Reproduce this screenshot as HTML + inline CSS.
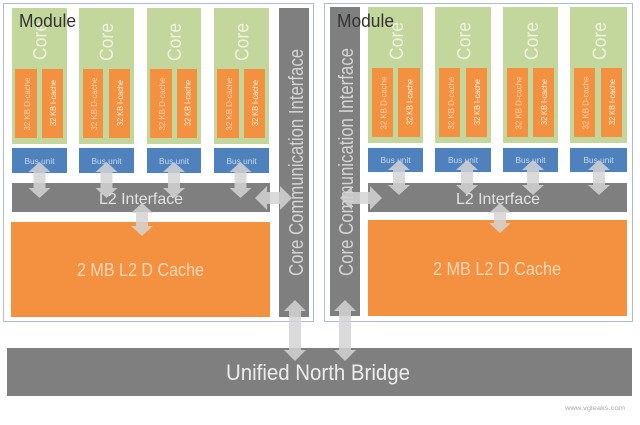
<!DOCTYPE html>
<html><head><meta charset="utf-8"><style>
html,body{margin:0;padding:0;background:#fff;}
svg{display:block;}
text{font-family:"Liberation Sans",sans-serif;}
</style></head><body>
<svg width="640" height="425" viewBox="0 0 640 425" xmlns="http://www.w3.org/2000/svg">
<rect x="0" y="0" width="640" height="425" fill="#fff"/>
<!-- module boxes -->
<rect x="3.5" y="3.5" width="310" height="318" fill="#fff" stroke="#aebccb" stroke-width="1"/>
<rect x="324.5" y="3.5" width="308" height="318" fill="#fff" stroke="#aebccb" stroke-width="1"/>

<!-- LEFT MODULE -->
<g>
<rect x="12" y="8" width="55" height="136" fill="#c3d69b"/>
<rect x="79" y="8" width="55" height="136" fill="#c3d69b"/>
<rect x="147" y="8" width="54" height="136" fill="#c3d69b"/>
<rect x="214" y="8" width="55" height="136" fill="#c3d69b"/>
<rect x="15" y="69" width="22" height="69" fill="#f39140"/>
<rect x="42" y="69" width="21" height="69" fill="#f39140"/>
<rect x="83" y="69" width="20" height="69" fill="#f39140"/>
<rect x="109" y="69" width="21" height="69" fill="#f39140"/>
<rect x="150" y="69" width="22" height="69" fill="#f39140"/>
<rect x="177" y="69" width="20" height="69" fill="#f39140"/>
<rect x="217" y="69" width="22" height="69" fill="#f39140"/>
<rect x="244" y="69" width="21" height="69" fill="#f39140"/>
<rect x="12" y="148" width="55" height="25" fill="#4f81bd"/>
<rect x="79" y="148" width="55" height="25" fill="#4f81bd"/>
<rect x="147" y="148" width="54" height="25" fill="#4f81bd"/>
<rect x="214" y="148" width="55" height="25" fill="#4f81bd"/>
<rect x="12" y="183" width="258" height="29" fill="#7f7f7f"/>
<rect x="11" y="222" width="259" height="95" fill="#f39140"/>
<rect x="279" y="8" width="30" height="309" fill="#7f7f7f"/>
</g>

<!-- RIGHT MODULE -->
<g>
<rect x="368" y="7" width="55" height="136" fill="#c3d69b"/>
<rect x="435" y="7" width="56" height="136" fill="#c3d69b"/>
<rect x="503" y="7" width="55" height="136" fill="#c3d69b"/>
<rect x="570" y="7" width="57" height="136" fill="#c3d69b"/>
<rect x="372" y="68" width="21" height="69" fill="#f39140"/>
<rect x="398" y="68" width="22" height="69" fill="#f39140"/>
<rect x="439" y="68" width="21" height="69" fill="#f39140"/>
<rect x="466" y="68" width="21" height="69" fill="#f39140"/>
<rect x="507" y="68" width="21" height="69" fill="#f39140"/>
<rect x="533" y="68" width="21" height="69" fill="#f39140"/>
<rect x="574" y="68" width="21" height="69" fill="#f39140"/>
<rect x="601" y="68" width="21" height="69" fill="#f39140"/>
<rect x="368" y="148" width="55" height="24" fill="#4f81bd"/>
<rect x="435" y="148" width="56" height="24" fill="#4f81bd"/>
<rect x="503" y="148" width="55" height="24" fill="#4f81bd"/>
<rect x="570" y="148" width="57" height="24" fill="#4f81bd"/>
<rect x="368" y="183" width="259" height="29" fill="#7f7f7f"/>
<rect x="368" y="220" width="259" height="96" fill="#f39140"/>
<rect x="330" y="7" width="30" height="309" fill="#7f7f7f"/>
</g>

<!-- Unified North Bridge -->
<rect x="7" y="348" width="625" height="48" fill="#7f7f7f"/>

<!-- Core labels -->
<g fill="#edf2e0" font-size="19" text-anchor="middle">
<text transform="translate(46.5,41) rotate(-90)" textLength="38" lengthAdjust="spacingAndGlyphs">Core</text>
<text transform="translate(113,42) rotate(-90)" textLength="38" lengthAdjust="spacingAndGlyphs">Core</text>
<text transform="translate(181,42) rotate(-90)" textLength="38" lengthAdjust="spacingAndGlyphs">Core</text>
<text transform="translate(248.5,42) rotate(-90)" textLength="38" lengthAdjust="spacingAndGlyphs">Core</text>
<text transform="translate(403,41) rotate(-90)" textLength="38" lengthAdjust="spacingAndGlyphs">Core</text>
<text transform="translate(470.5,41) rotate(-90)" textLength="38" lengthAdjust="spacingAndGlyphs">Core</text>
<text transform="translate(538,41) rotate(-90)" textLength="38" lengthAdjust="spacingAndGlyphs">Core</text>
<text transform="translate(606,41) rotate(-90)" textLength="38" lengthAdjust="spacingAndGlyphs">Core</text>
</g>

<!-- cache labels -->
<g font-size="8.5" text-anchor="middle">
<g fill="#fbd2b0">
<text transform="translate(30,104) rotate(-90)" textLength="53" lengthAdjust="spacingAndGlyphs">32 KB D-cache</text>
<text transform="translate(97,104) rotate(-90)" textLength="53" lengthAdjust="spacingAndGlyphs">32 KB D-cache</text>
<text transform="translate(165,104) rotate(-90)" textLength="53" lengthAdjust="spacingAndGlyphs">32 KB D-cache</text>
<text transform="translate(232,104) rotate(-90)" textLength="53" lengthAdjust="spacingAndGlyphs">32 KB D-cache</text>
<text transform="translate(386.5,103) rotate(-90)" textLength="53" lengthAdjust="spacingAndGlyphs">32 KB D-cache</text>
<text transform="translate(454,103) rotate(-90)" textLength="53" lengthAdjust="spacingAndGlyphs">32 KB D-cache</text>
<text transform="translate(521.5,103) rotate(-90)" textLength="53" lengthAdjust="spacingAndGlyphs">32 KB D-cache</text>
<text transform="translate(588.5,103) rotate(-90)" textLength="53" lengthAdjust="spacingAndGlyphs">32 KB D-cache</text>
</g>
<g fill="#fff3e6">
<text transform="translate(56,103) rotate(-90)" textLength="46" lengthAdjust="spacingAndGlyphs">32 KB I-cache</text>
<text transform="translate(123,103) rotate(-90)" textLength="46" lengthAdjust="spacingAndGlyphs">32 KB I-cache</text>
<text transform="translate(190.5,103) rotate(-90)" textLength="46" lengthAdjust="spacingAndGlyphs">32 KB I-cache</text>
<text transform="translate(258,103) rotate(-90)" textLength="46" lengthAdjust="spacingAndGlyphs">32 KB I-cache</text>
<text transform="translate(412.5,102) rotate(-90)" textLength="46" lengthAdjust="spacingAndGlyphs">32 KB I-cache</text>
<text transform="translate(480,102) rotate(-90)" textLength="46" lengthAdjust="spacingAndGlyphs">32 KB I-cache</text>
<text transform="translate(547,102) rotate(-90)" textLength="46" lengthAdjust="spacingAndGlyphs">32 KB I-cache</text>
<text transform="translate(615,102) rotate(-90)" textLength="46" lengthAdjust="spacingAndGlyphs">32 KB I-cache</text>
</g>
</g>

<!-- Bus unit labels -->
<g fill="#c9d8ef" font-size="8.5" text-anchor="middle">
<text x="39.5" y="164" textLength="30" lengthAdjust="spacingAndGlyphs">Bus unit</text>
<text x="106.5" y="164" textLength="30" lengthAdjust="spacingAndGlyphs">Bus unit</text>
<text x="174" y="164" textLength="30" lengthAdjust="spacingAndGlyphs">Bus unit</text>
<text x="241.5" y="164" textLength="30" lengthAdjust="spacingAndGlyphs">Bus unit</text>
<text x="395.5" y="163" textLength="30" lengthAdjust="spacingAndGlyphs">Bus unit</text>
<text x="463" y="163" textLength="30" lengthAdjust="spacingAndGlyphs">Bus unit</text>
<text x="530.5" y="163" textLength="30" lengthAdjust="spacingAndGlyphs">Bus unit</text>
<text x="598.5" y="163" textLength="30" lengthAdjust="spacingAndGlyphs">Bus unit</text>
</g>

<!-- L2 Interface / cache labels -->
<g fill="#e2e2e2" font-size="16" text-anchor="middle">
<text x="141" y="204" textLength="84" lengthAdjust="spacingAndGlyphs">L2 Interface</text>
<text x="498" y="204" textLength="84" lengthAdjust="spacingAndGlyphs">L2 Interface</text>
</g>
<g fill="#fcd8ba" font-size="18" text-anchor="middle">
<text x="140.5" y="276" textLength="127" lengthAdjust="spacingAndGlyphs">2 MB L2 D Cache</text>
<text x="497" y="275" textLength="128" lengthAdjust="spacingAndGlyphs">2 MB L2 D Cache</text>
</g>

<!-- CCI labels -->
<g fill="#d4d4d4" font-size="20" text-anchor="middle">
<text transform="translate(303,162.5) rotate(-90)" textLength="227" lengthAdjust="spacingAndGlyphs">Core Communication Interface</text>
<text transform="translate(353,162) rotate(-90)" textLength="228" lengthAdjust="spacingAndGlyphs">Core Communication Interface</text>
</g>

<!-- Module labels -->
<g fill="#333" font-size="18">
<text x="19" y="27" textLength="57" lengthAdjust="spacingAndGlyphs">Module</text>
<text x="337" y="27" textLength="57" lengthAdjust="spacingAndGlyphs">Module</text>
</g>

<!-- UNB label -->
<text x="318" y="380" fill="#ececec" font-size="22" text-anchor="middle" textLength="184" lengthAdjust="spacingAndGlyphs">Unified North Bridge</text>

<!-- arrows -->
<g fill="#d3d3d3" fill-opacity="0.85">
<!-- vertical: bus -> L2I -->
<path d="M39.5,162 l11,10 h-5 v16 h5 l-11,10 l-11,-10 h5 v-16 h-5 z"/>
<path d="M106.5,162 l11,10 h-5 v16 h5 l-11,10 l-11,-10 h5 v-16 h-5 z"/>
<path d="M174,162 l11,10 h-5 v16 h5 l-11,10 l-11,-10 h5 v-16 h-5 z"/>
<path d="M240.5,162 l11,10 h-5 v16 h5 l-11,10 l-11,-10 h5 v-16 h-5 z"/>
<path d="M399,160 l11,10 h-5 v15 h5 l-11,10 l-11,-10 h5 v-15 h-5 z"/>
<path d="M467,160 l11,10 h-5 v15 h5 l-11,10 l-11,-10 h5 v-15 h-5 z"/>
<path d="M533,160 l11,10 h-5 v15 h5 l-11,10 l-11,-10 h5 v-15 h-5 z"/>
<path d="M599,160 l11,10 h-5 v15 h5 l-11,10 l-11,-10 h5 v-15 h-5 z"/>
<!-- L2I -> L2 cache -->
<path d="M142,203 l11,10 h-5 v13 h5 l-11,10 l-11,-10 h5 v-13 h-5 z"/>
<path d="M500,203 l11,10 h-5 v10 h5 l-11,10 l-11,-10 h5 v-10 h-5 z"/>
<!-- horizontal: L2I <-> CCI -->
<path d="M255,198 l12,-12 v6 h13 v-6 l12,12 l-12,12 v-6 h-13 v6 z"/>
<path d="M340,198 l12,-12 v6 h18 v-6 l12,12 l-12,12 v-6 h-18 v6 z"/>
<!-- CCI <-> UNB -->
<path d="M295,300 l11,11 h-5 v39 h5 l-11,11 l-11,-11 h5 v-39 h-5 z"/>
<path d="M345,300 l11,11 h-5 v39 h5 l-11,11 l-11,-11 h5 v-39 h-5 z"/>
</g>

<!-- watermark -->
<text x="595" y="410" fill="#a8a8a8" font-size="6.5" text-anchor="middle" textLength="60" lengthAdjust="spacingAndGlyphs">www.vgleaks.com</text>
</svg>
</body></html>
